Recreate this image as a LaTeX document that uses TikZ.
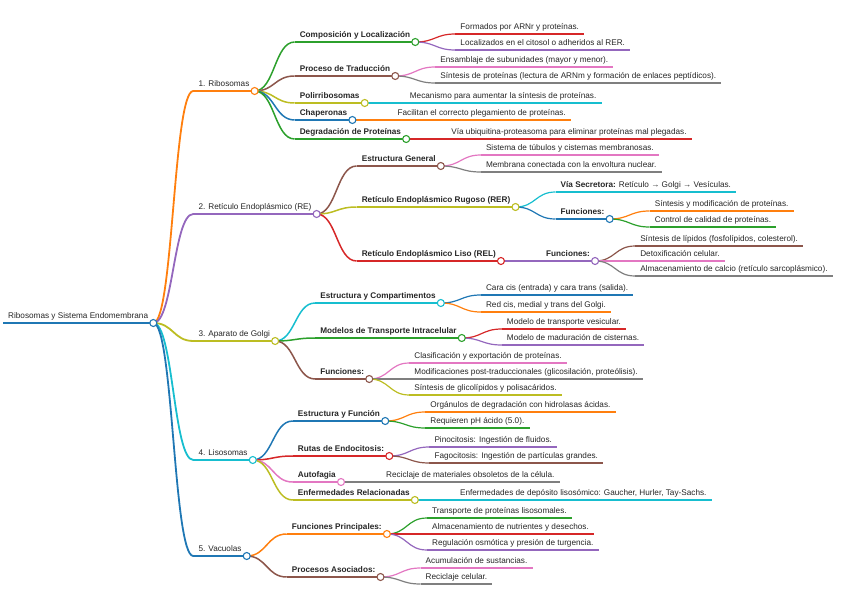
\documentclass[tikz,border=0pt]{standalone}
\usepackage{fontspec}
\setmainfont{Liberation Sans}
\usepackage{xcolor}
\usepackage{tikz}
\usetikzlibrary{calc}
\definecolor{mapBlue}{RGB}{31, 119, 180}
\definecolor{mapOrange}{RGB}{255, 127, 14}
\definecolor{mapGreen}{RGB}{44, 160, 44}
\definecolor{mapRed}{RGB}{214, 39, 40}
\definecolor{mapPurple}{RGB}{148, 103, 189}
\definecolor{mapBrown}{RGB}{140, 86, 75}
\definecolor{mapPink}{RGB}{227, 119, 194}
\definecolor{mapGray}{RGB}{127, 127, 127}
\definecolor{mapOlive}{RGB}{188, 189, 34}
\definecolor{mapCyan}{RGB}{23, 190, 207}

\begin{document}
\begin{tikzpicture}[
    x=1pt, y=-1pt,
    leaf/.style={anchor=south west, inner xsep=5pt, inner ysep=0pt, text height=6pt, text depth=4pt, font=\fontsize{8.2}{10}\selectfont, text=black!85},
    head/.style={leaf, font=\fontsize{8.2}{10}\selectfont\bfseries},
    under/.style={draw=#1, line width=1.2pt},
    linkto/.style={draw=#1, line width=1.2pt},
    joint/.style={circle, draw=#1, fill=white, line width=1.1pt, inner sep=0pt, minimum size=7pt}
]
    \useasboundingbox (0,0) rectangle (848,599);

    % root and first level
    \node[leaf] (root) at (3,323) {Ribosomas y Sistema Endomembrana};
    \node[leaf] (ribo) at ($(root.south east |- 0,91)+(40,0)$) {1. Ribosomas};
    \node[leaf] (rete) at ($(root.south east |- 0,214)+(40,0)$) {2. Retículo Endoplásmico (RE)};
    \node[leaf] (golg) at ($(root.south east |- 0,341)+(40,0)$) {3. Aparato de Golgi};
    \node[leaf] (liso) at ($(root.south east |- 0,460)+(40,0)$) {4. Lisosomas};
    \node[leaf] (vacu) at ($(root.south east |- 0,556)+(40,0)$) {5. Vacuolas};

    % ribosomas
    \node[head] (comp) at ($(ribo.south east |- 0,42)+(40,0)$) {Composición y Localización};
    \node[leaf] (form) at ($(comp.south east |- 0,34)+(40,0)$) {Formados por ARNr y proteínas.};
    \node[leaf] (loca) at ($(comp.south east |- 0,50)+(40,0)$) {Localizados en el citosol o adheridos al RER.};
    \node[head] (proc) at ($(ribo.south east |- 0,76)+(40,0)$) {Proceso de Traducción};
    \node[leaf] (ensa) at ($(proc.south east |- 0,67)+(40,0)$) {Ensamblaje de subunidades (mayor y menor).};
    \node[leaf] (sint) at ($(proc.south east |- 0,83)+(40,0)$) {Síntesis de proteínas (lectura de ARNm y formación de enlaces peptídicos).};
    \node[head] (poli) at ($(ribo.south east |- 0,103)+(40,0)$) {Polirribosomas};
    \node[leaf] (meca) at ($(poli.south east)+(40,0)$) {Mecanismo para aumentar la síntesis de proteínas.};
    \node[head] (chap) at ($(ribo.south east |- 0,120)+(40,0)$) {Chaperonas};
    \node[leaf] (faci) at ($(chap.south east)+(40,0)$) {Facilitan el correcto plegamiento de proteínas.};
    \node[head] (degr) at ($(ribo.south east |- 0,139)+(40,0)$) {Degradación de Proteínas};
    \node[leaf] (ubiq) at ($(degr.south east)+(40,0)$) {Vía ubiquitina-proteasoma para eliminar proteínas mal plegadas.};

    % reticulo endoplasmico
    \node[head] (estg) at ($(rete.south east |- 0,166)+(40,0)$) {Estructura General};
    \node[leaf] (sist) at ($(estg.south east |- 0,155)+(40,0)$) {Sistema de túbulos y cisternas membranosas.};
    \node[leaf] (memb) at ($(estg.south east |- 0,172)+(40,0)$) {Membrana conectada con la envoltura nuclear.};
    \node[head] (rer) at ($(rete.south east |- 0,207)+(40,0)$) {Retículo Endoplásmico Rugoso (RER)};
    \node[leaf] (vias) at ($(rer.south east |- 0,192)+(40,0)$) {{\bfseries Vía Secretora:} Retículo → Golgi → Vesículas.};
    \node[head] (funr) at ($(rer.south east |- 0,219)+(40,0)$) {Funciones:};
    \node[leaf] (sinm) at ($(funr.south east |- 0,211)+(40,0)$) {Síntesis y modificación de proteínas.};
    \node[leaf] (ctrl) at ($(funr.south east |- 0,227)+(40,0)$) {Control de calidad de proteínas.};
    \node[head] (rel) at ($(rete.south east |- 0,261)+(40,0)$) {Retículo Endoplásmico Liso (REL)};
    \node[head] (funl) at ($(rel.south east)+(40,0)$) {Funciones:};
    \node[leaf] (lipi) at ($(funl.south east |- 0,246)+(40,0)$) {Síntesis de lípidos (fosfolípidos, colesterol).};
    \node[leaf] (deto) at ($(funl.south east |- 0,261)+(40,0)$) {Detoxificación celular.};
    \node[leaf] (calci) at ($(funl.south east |- 0,276)+(40,0)$) {Almacenamiento de calcio (retículo sarcoplásmico).};

    % golgi
    \node[head] (estc) at ($(golg.south east |- 0,303)+(40,0)$) {Estructura y Compartimentos};
    \node[leaf] (cara) at ($(estc.south east |- 0,295)+(40,0)$) {Cara cis (entrada) y cara trans (salida).};
    \node[leaf] (redc) at ($(estc.south east |- 0,312)+(40,0)$) {Red cis, medial y trans del Golgi.};
    \node[head] (mode) at ($(golg.south east |- 0,338)+(40,0)$) {Modelos de Transporte Intracelular};
    \node[leaf] (mves) at ($(mode.south east |- 0,329)+(40,0)$) {Modelo de transporte vesicular.};
    \node[leaf] (mmad) at ($(mode.south east |- 0,345)+(40,0)$) {Modelo de maduración de cisternas.};
    \node[head] (fung) at ($(golg.south east |- 0,379)+(40,0)$) {Funciones:};
    \node[leaf] (clas) at ($(fung.south east |- 0,363)+(40,0)$) {Clasificación y exportación de proteínas.};
    \node[leaf] (modi) at ($(fung.south east |- 0,379)+(40,0)$) {Modificaciones post-traduccionales (glicosilación, proteólisis).};
    \node[leaf] (glic) at ($(fung.south east |- 0,395)+(40,0)$) {Síntesis de glicolípidos y polisacáridos.};

    % lisosomas
    \node[head] (estf) at ($(liso.south east |- 0,421)+(40,0)$) {Estructura y Función};
    \node[leaf] (orga) at ($(estf.south east |- 0,412)+(40,0)$) {Orgánulos de degradación con hidrolasas ácidas.};
    \node[leaf] (reqp) at ($(estf.south east |- 0,428)+(40,0)$) {Requieren pH ácido (5.0).};
    \node[head] (ruta) at ($(liso.south east |- 0,456)+(40,0)$) {Rutas de Endocitosis:};
    \node[leaf] (pino) at ($(ruta.south east |- 0,447)+(40,0)$) {Pinocitosis: Ingestión de fluidos.};
    \node[leaf] (fago) at ($(ruta.south east |- 0,463)+(40,0)$) {Fagocitosis: Ingestión de partículas grandes.};
    \node[head] (auto) at ($(liso.south east |- 0,482)+(40,0)$) {Autofagia};
    \node[leaf] (reci) at ($(auto.south east)+(40,0)$) {Reciclaje de materiales obsoletos de la célula.};
    \node[head] (enfr) at ($(liso.south east |- 0,500)+(40,0)$) {Enfermedades Relacionadas};
    \node[leaf] (enfd) at ($(enfr.south east)+(40,0)$) {Enfermedades de depósito lisosómico: Gaucher, Hurler, Tay-Sachs.};

    % vacuolas
    \node[head] (funp) at ($(vacu.south east |- 0,534)+(40,0)$) {Funciones Principales:};
    \node[leaf] (tran) at ($(funp.south east |- 0,518)+(40,0)$) {Transporte de proteínas lisosomales.};
    \node[leaf] (alma) at ($(funp.south east |- 0,534)+(40,0)$) {Almacenamiento de nutrientes y desechos.};
    \node[leaf] (regu) at ($(funp.south east |- 0,550)+(40,0)$) {Regulación osmótica y presión de turgencia.};
    \node[head] (proa) at ($(vacu.south east |- 0,577)+(40,0)$) {Procesos Asociados:};
    \node[leaf] (acum) at ($(proa.south east |- 0,568)+(40,0)$) {Acumulación de sustancias.};
    \node[leaf] (recc) at ($(proa.south east |- 0,584)+(40,0)$) {Reciclaje celular.};

    % underlines
    \draw[under=mapBlue, line width=2.2pt] (root.south west) -- (root.south east);
    \draw[under=mapOrange, line width=1.8pt] (ribo.south west) -- (ribo.south east);
    \draw[under=mapPurple, line width=1.8pt] (rete.south west) -- (rete.south east);
    \draw[under=mapOlive, line width=1.8pt] (golg.south west) -- (golg.south east);
    \draw[under=mapCyan, line width=1.8pt] (liso.south west) -- (liso.south east);
    \draw[under=mapBlue, line width=1.8pt] (vacu.south west) -- (vacu.south east);
    \draw[under=mapGreen, line width=1.5pt] (comp.south west) -- (comp.south east);
    \draw[under=mapRed] (form.south west) -- (form.south east);
    \draw[under=mapPurple] (loca.south west) -- (loca.south east);
    \draw[under=mapBrown, line width=1.5pt] (proc.south west) -- (proc.south east);
    \draw[under=mapPink] (ensa.south west) -- (ensa.south east);
    \draw[under=mapGray] (sint.south west) -- (sint.south east);
    \draw[under=mapOlive, line width=1.5pt] (poli.south west) -- (poli.south east);
    \draw[under=mapCyan] (meca.south west) -- (meca.south east);
    \draw[under=mapBlue, line width=1.5pt] (chap.south west) -- (chap.south east);
    \draw[under=mapOrange] (faci.south west) -- (faci.south east);
    \draw[under=mapGreen, line width=1.5pt] (degr.south west) -- (degr.south east);
    \draw[under=mapRed] (ubiq.south west) -- (ubiq.south east);
    \draw[under=mapBrown, line width=1.5pt] (estg.south west) -- (estg.south east);
    \draw[under=mapPink] (sist.south west) -- (sist.south east);
    \draw[under=mapGray] (memb.south west) -- (memb.south east);
    \draw[under=mapOlive, line width=1.5pt] (rer.south west) -- (rer.south east);
    \draw[under=mapCyan] (vias.south west) -- (vias.south east);
    \draw[under=mapBlue] (funr.south west) -- (funr.south east);
    \draw[under=mapOrange] (sinm.south west) -- (sinm.south east);
    \draw[under=mapGreen] (ctrl.south west) -- (ctrl.south east);
    \draw[under=mapRed, line width=1.5pt] (rel.south west) -- (rel.south east);
    \draw[under=mapPurple] (funl.south west) -- (funl.south east);
    \draw[under=mapBrown] (lipi.south west) -- (lipi.south east);
    \draw[under=mapPink] (deto.south west) -- (deto.south east);
    \draw[under=mapGray] (calci.south west) -- (calci.south east);
    \draw[under=mapCyan, line width=1.5pt] (estc.south west) -- (estc.south east);
    \draw[under=mapBlue] (cara.south west) -- (cara.south east);
    \draw[under=mapOrange] (redc.south west) -- (redc.south east);
    \draw[under=mapGreen, line width=1.5pt] (mode.south west) -- (mode.south east);
    \draw[under=mapRed] (mves.south west) -- (mves.south east);
    \draw[under=mapPurple] (mmad.south west) -- (mmad.south east);
    \draw[under=mapBrown, line width=1.5pt] (fung.south west) -- (fung.south east);
    \draw[under=mapPink] (clas.south west) -- (clas.south east);
    \draw[under=mapGray] (modi.south west) -- (modi.south east);
    \draw[under=mapOlive] (glic.south west) -- (glic.south east);
    \draw[under=mapBlue, line width=1.5pt] (estf.south west) -- (estf.south east);
    \draw[under=mapOrange] (orga.south west) -- (orga.south east);
    \draw[under=mapGreen] (reqp.south west) -- (reqp.south east);
    \draw[under=mapRed, line width=1.5pt] (ruta.south west) -- (ruta.south east);
    \draw[under=mapPurple] (pino.south west) -- (pino.south east);
    \draw[under=mapBrown] (fago.south west) -- (fago.south east);
    \draw[under=mapPink, line width=1.5pt] (auto.south west) -- (auto.south east);
    \draw[under=mapGray] (reci.south west) -- (reci.south east);
    \draw[under=mapOlive, line width=1.5pt] (enfr.south west) -- (enfr.south east);
    \draw[under=mapCyan] (enfd.south west) -- (enfd.south east);
    \draw[under=mapOrange, line width=1.5pt] (funp.south west) -- (funp.south east);
    \draw[under=mapGreen] (tran.south west) -- (tran.south east);
    \draw[under=mapRed] (alma.south west) -- (alma.south east);
    \draw[under=mapPurple] (regu.south west) -- (regu.south east);
    \draw[under=mapBrown, line width=1.5pt] (proa.south west) -- (proa.south east);
    \draw[under=mapPink] (acum.south west) -- (acum.south east);
    \draw[under=mapGray] (recc.south west) -- (recc.south east);

    % links
    \draw[linkto=mapOrange, line width=1.8pt] (root.south east) .. controls +(20,0) and +(-20,0) .. (ribo.south west);
    \draw[linkto=mapPurple, line width=1.8pt] (root.south east) .. controls +(20,0) and +(-20,0) .. (rete.south west);
    \draw[linkto=mapOlive, line width=1.8pt] (root.south east) .. controls +(20,0) and +(-20,0) .. (golg.south west);
    \draw[linkto=mapCyan, line width=1.8pt] (root.south east) .. controls +(20,0) and +(-20,0) .. (liso.south west);
    \draw[linkto=mapBlue, line width=1.8pt] (root.south east) .. controls +(20,0) and +(-20,0) .. (vacu.south west);
    \draw[linkto=mapGreen, line width=1.5pt] (ribo.south east) .. controls +(20,0) and +(-20,0) .. (comp.south west);
    \draw[linkto=mapBrown, line width=1.5pt] (ribo.south east) .. controls +(20,0) and +(-20,0) .. (proc.south west);
    \draw[linkto=mapOlive, line width=1.5pt] (ribo.south east) .. controls +(20,0) and +(-20,0) .. (poli.south west);
    \draw[linkto=mapBlue, line width=1.5pt] (ribo.south east) .. controls +(20,0) and +(-20,0) .. (chap.south west);
    \draw[linkto=mapGreen, line width=1.5pt] (ribo.south east) .. controls +(20,0) and +(-20,0) .. (degr.south west);
    \draw[linkto=mapRed] (comp.south east) .. controls +(20,0) and +(-20,0) .. (form.south west);
    \draw[linkto=mapPurple] (comp.south east) .. controls +(20,0) and +(-20,0) .. (loca.south west);
    \draw[linkto=mapPink] (proc.south east) .. controls +(20,0) and +(-20,0) .. (ensa.south west);
    \draw[linkto=mapGray] (proc.south east) .. controls +(20,0) and +(-20,0) .. (sint.south west);
    \draw[linkto=mapCyan] (poli.south east) -- (meca.south west);
    \draw[linkto=mapOrange] (chap.south east) -- (faci.south west);
    \draw[linkto=mapRed] (degr.south east) -- (ubiq.south west);
    \draw[linkto=mapBrown, line width=1.5pt] (rete.south east) .. controls +(20,0) and +(-20,0) .. (estg.south west);
    \draw[linkto=mapOlive, line width=1.5pt] (rete.south east) .. controls +(20,0) and +(-20,0) .. (rer.south west);
    \draw[linkto=mapRed, line width=1.5pt] (rete.south east) .. controls +(20,0) and +(-20,0) .. (rel.south west);
    \draw[linkto=mapPink] (estg.south east) .. controls +(20,0) and +(-20,0) .. (sist.south west);
    \draw[linkto=mapGray] (estg.south east) .. controls +(20,0) and +(-20,0) .. (memb.south west);
    \draw[linkto=mapCyan] (rer.south east) .. controls +(20,0) and +(-20,0) .. (vias.south west);
    \draw[linkto=mapBlue] (rer.south east) .. controls +(20,0) and +(-20,0) .. (funr.south west);
    \draw[linkto=mapOrange] (funr.south east) .. controls +(20,0) and +(-20,0) .. (sinm.south west);
    \draw[linkto=mapGreen] (funr.south east) .. controls +(20,0) and +(-20,0) .. (ctrl.south west);
    \draw[linkto=mapPurple] (rel.south east) -- (funl.south west);
    \draw[linkto=mapBrown] (funl.south east) .. controls +(20,0) and +(-20,0) .. (lipi.south west);
    \draw[linkto=mapPink] (funl.south east) .. controls +(20,0) and +(-20,0) .. (deto.south west);
    \draw[linkto=mapGray] (funl.south east) .. controls +(20,0) and +(-20,0) .. (calci.south west);
    \draw[linkto=mapCyan, line width=1.5pt] (golg.south east) .. controls +(20,0) and +(-20,0) .. (estc.south west);
    \draw[linkto=mapGreen, line width=1.5pt] (golg.south east) .. controls +(20,0) and +(-20,0) .. (mode.south west);
    \draw[linkto=mapBrown, line width=1.5pt] (golg.south east) .. controls +(20,0) and +(-20,0) .. (fung.south west);
    \draw[linkto=mapBlue] (estc.south east) .. controls +(20,0) and +(-20,0) .. (cara.south west);
    \draw[linkto=mapOrange] (estc.south east) .. controls +(20,0) and +(-20,0) .. (redc.south west);
    \draw[linkto=mapRed] (mode.south east) .. controls +(20,0) and +(-20,0) .. (mves.south west);
    \draw[linkto=mapPurple] (mode.south east) .. controls +(20,0) and +(-20,0) .. (mmad.south west);
    \draw[linkto=mapPink] (fung.south east) .. controls +(20,0) and +(-20,0) .. (clas.south west);
    \draw[linkto=mapGray] (fung.south east) .. controls +(20,0) and +(-20,0) .. (modi.south west);
    \draw[linkto=mapOlive] (fung.south east) .. controls +(20,0) and +(-20,0) .. (glic.south west);
    \draw[linkto=mapBlue, line width=1.5pt] (liso.south east) .. controls +(20,0) and +(-20,0) .. (estf.south west);
    \draw[linkto=mapRed, line width=1.5pt] (liso.south east) .. controls +(20,0) and +(-20,0) .. (ruta.south west);
    \draw[linkto=mapPink, line width=1.5pt] (liso.south east) .. controls +(20,0) and +(-20,0) .. (auto.south west);
    \draw[linkto=mapOlive, line width=1.5pt] (liso.south east) .. controls +(20,0) and +(-20,0) .. (enfr.south west);
    \draw[linkto=mapOrange] (estf.south east) .. controls +(20,0) and +(-20,0) .. (orga.south west);
    \draw[linkto=mapGreen] (estf.south east) .. controls +(20,0) and +(-20,0) .. (reqp.south west);
    \draw[linkto=mapPurple] (ruta.south east) .. controls +(20,0) and +(-20,0) .. (pino.south west);
    \draw[linkto=mapBrown] (ruta.south east) .. controls +(20,0) and +(-20,0) .. (fago.south west);
    \draw[linkto=mapGray] (auto.south east) -- (reci.south west);
    \draw[linkto=mapCyan] (enfr.south east) -- (enfd.south west);
    \draw[linkto=mapOrange, line width=1.5pt] (vacu.south east) .. controls +(20,0) and +(-20,0) .. (funp.south west);
    \draw[linkto=mapBrown, line width=1.5pt] (vacu.south east) .. controls +(20,0) and +(-20,0) .. (proa.south west);
    \draw[linkto=mapGreen] (funp.south east) .. controls +(20,0) and +(-20,0) .. (tran.south west);
    \draw[linkto=mapRed] (funp.south east) .. controls +(20,0) and +(-20,0) .. (alma.south west);
    \draw[linkto=mapPurple] (funp.south east) .. controls +(20,0) and +(-20,0) .. (regu.south west);
    \draw[linkto=mapPink] (proa.south east) .. controls +(20,0) and +(-20,0) .. (acum.south west);
    \draw[linkto=mapGray] (proa.south east) .. controls +(20,0) and +(-20,0) .. (recc.south west);

    % joints
    \node[joint=mapBlue] (root-j) at (root.south east) {};
    \node[joint=mapOrange] (ribo-j) at (ribo.south east) {};
    \node[joint=mapPurple] (rete-j) at (rete.south east) {};
    \node[joint=mapOlive] (golg-j) at (golg.south east) {};
    \node[joint=mapCyan] (liso-j) at (liso.south east) {};
    \node[joint=mapBlue] (vacu-j) at (vacu.south east) {};
    \node[joint=mapGreen] (comp-j) at (comp.south east) {};
    \node[joint=mapBrown] (proc-j) at (proc.south east) {};
    \node[joint=mapOlive] (poli-j) at (poli.south east) {};
    \node[joint=mapBlue] (chap-j) at (chap.south east) {};
    \node[joint=mapGreen] (degr-j) at (degr.south east) {};
    \node[joint=mapBrown] (estg-j) at (estg.south east) {};
    \node[joint=mapOlive] (rer-j) at (rer.south east) {};
    \node[joint=mapBlue] (funr-j) at (funr.south east) {};
    \node[joint=mapRed] (rel-j) at (rel.south east) {};
    \node[joint=mapPurple] (funl-j) at (funl.south east) {};
    \node[joint=mapCyan] (estc-j) at (estc.south east) {};
    \node[joint=mapGreen] (mode-j) at (mode.south east) {};
    \node[joint=mapBrown] (fung-j) at (fung.south east) {};
    \node[joint=mapBlue] (estf-j) at (estf.south east) {};
    \node[joint=mapRed] (ruta-j) at (ruta.south east) {};
    \node[joint=mapPink] (auto-j) at (auto.south east) {};
    \node[joint=mapOlive] (enfr-j) at (enfr.south east) {};
    \node[joint=mapOrange] (funp-j) at (funp.south east) {};
    \node[joint=mapBrown] (proa-j) at (proa.south east) {};
\end{tikzpicture}
\end{document}
